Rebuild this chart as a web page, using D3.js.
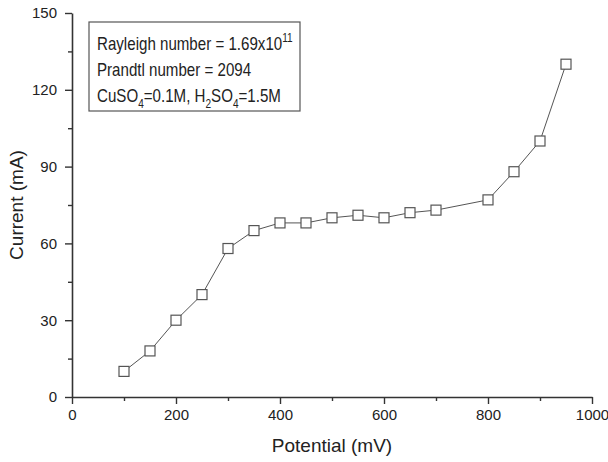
<!DOCTYPE html>
<html>
<head>
<meta charset="utf-8">
<script src="https://cdn.jsdelivr.net/npm/d3@7"></script>
<style>
  body { margin: 0; background: #fff; }
  svg { display: block; font-family: "Liberation Sans", Arial, sans-serif; }
</style>
</head>
<body>
<div id="chart"></div>
<script>
// Data
const potential = [100, 150, 200, 250, 300, 350, 400, 450, 500, 550, 600, 650, 700, 800, 850, 900, 950];
const current = [10, 18, 30, 40, 58, 65, 68, 68, 70, 71, 70, 72, 73, 77, 88, 100, 130];
const xTicks = [0, 200, 400, 600, 800, 1000];
const xMinorTicks = [100, 300, 500, 700, 900];
const yTicks = [0, 30, 60, 90, 120, 150];
const yMinorTicks = [15, 45, 75, 105, 135];

const width = 608, height = 462;
const margin = { top: 13, right: 16, bottom: 65, left: 72 };
const innerWidth = width - margin.left - margin.right;
const innerHeight = height - margin.top - margin.bottom;

const data = potential.map((p, i) => ({ x: p, y: current[i] }));

const svg = d3.select("#chart").append("svg")
  .attr("width", width)
  .attr("height", height);

const g = svg.append("g")
  .attr("transform", `translate(${margin.left}, ${margin.top})`);

const xScale = d3.scaleLinear().domain([0, 1000]).range([0, innerWidth]);
const yScale = d3.scaleLinear().domain([0, 150]).range([innerHeight, 0]);

const axisColor = "#333";

// X axis (major + minor)
g.append("g")
  .attr("transform", `translate(0, ${innerHeight})`)
  .call(d3.axisBottom(xScale).tickValues(xTicks).tickFormat(d3.format("d"))
    .tickSize(7).tickPadding(5).tickSizeOuter(0));
const xMinor = g.append("g")
  .attr("transform", `translate(0, ${innerHeight})`)
  .call(d3.axisBottom(xScale).tickValues(xMinorTicks).tickSize(4).tickFormat("").tickSizeOuter(0));
xMinor.select(".domain").remove();
xMinor.selectAll("text").remove();

// Y axis (major + minor)
g.append("g")
  .call(d3.axisLeft(yScale).tickValues(yTicks).tickSize(7).tickPadding(8).tickSizeOuter(0));
const yMinor = g.append("g")
  .call(d3.axisLeft(yScale).tickValues(yMinorTicks).tickSize(4).tickFormat("").tickSizeOuter(0));
yMinor.select(".domain").remove();
yMinor.selectAll("text").remove();

g.selectAll(".domain").attr("stroke", axisColor).attr("stroke-width", 1.6);
g.selectAll(".tick line").attr("stroke", axisColor).attr("stroke-width", 1.4);
g.selectAll(".tick text")
  .style("font-family", "'Liberation Sans', Arial, sans-serif")
  .style("font-size", "15px")
  .attr("fill", "#222");

// Axis titles
g.append("text")
  .attr("x", innerWidth / 2)
  .attr("y", innerHeight + 55)
  .attr("text-anchor", "middle")
  .style("font-size", "19px")
  .attr("fill", "#222")
  .text("Potential (mV)");

g.append("text")
  .attr("transform", "rotate(-90)")
  .attr("x", -innerHeight / 2)
  .attr("y", -49)
  .attr("text-anchor", "middle")
  .style("font-size", "19px")
  .attr("fill", "#222")
  .text("Current (mA)");

// Line
const line = d3.line().x(d => xScale(d.x)).y(d => yScale(d.y));
g.append("path")
  .datum(data)
  .attr("fill", "none")
  .attr("stroke", "#555")
  .attr("stroke-width", 1)
  .attr("d", line);

// Square markers
const s = 10;
g.selectAll(".pt")
  .data(data)
  .enter()
  .append("rect")
  .attr("class", "pt")
  .attr("x", d => xScale(d.x) - s / 2)
  .attr("y", d => yScale(d.y) - s / 2)
  .attr("width", s)
  .attr("height", s)
  .attr("fill", "#fff")
  .attr("stroke", "#555")
  .attr("stroke-width", 1.2);

// Annotation box
const box = svg.append("g").attr("transform", "translate(89, 22)");
box.append("rect")
  .attr("width", 211)
  .attr("height", 89)
  .attr("fill", "#fff")
  .attr("stroke", "#555")
  .attr("stroke-width", 1.2);

// text in the reference is slightly condensed
const tg = box.append("g").attr("transform", "translate(8, 0) scale(0.84, 1)");
const fs = 18;
const t1 = tg.append("text").attr("x", 0).attr("y", 28).style("font-size", fs + "px").attr("fill", "#222");
t1.append("tspan").text("Rayleigh number = 1.69x10");
t1.append("tspan").attr("dy", -8).style("font-size", "12px").text("11");

tg.append("text").attr("x", 0).attr("y", 54).style("font-size", fs + "px").attr("fill", "#222")
  .text("Prandtl number = 2094");

const t3 = tg.append("text").attr("x", 0).attr("y", 80).style("font-size", fs + "px").attr("fill", "#222");
const parts = [["CuSO", 0], ["4", 1], ["=0.1M, H", 0], ["2", 1], ["SO", 0], ["4", 1], ["=1.5M", 0]];
let sub = false;
parts.forEach(([txt, isSub]) => {
  const ts = t3.append("tspan").text(txt);
  if (isSub) ts.style("font-size", "12px");
  if (isSub && !sub) { ts.attr("dy", 6); sub = true; }
  else if (!isSub && sub) { ts.attr("dy", -6); sub = false; }
});
</script>
</body>
</html>
